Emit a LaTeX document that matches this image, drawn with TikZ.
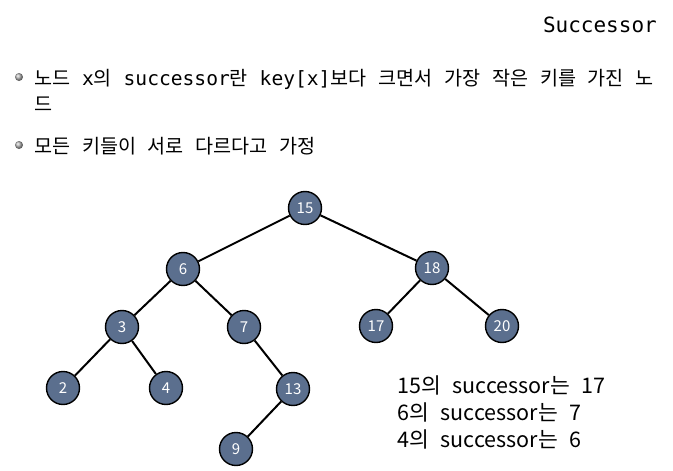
\documentclass[tikz,border=0pt]{standalone}
\usepackage{fontspec}
\newfontfamily\krfont{Noto Sans CJK KR}
\newfontfamily\codefont{DejaVu Sans Mono}
\newcommand\kr[1]{{\krfont #1}}
\newcommand\resultfont{\krfont\fontsize{21.5}{21.5}\selectfont\spaceskip 0.55em\relax}
\definecolor{keyblue}{HTML}{5B6F8E}
\tikzset{
  keynode/.style={circle, draw=black, line width=1.4pt, fill=keyblue, minimum size=33pt,
    inner sep=0pt, text=white, font=\krfont\fontsize{15}{15}\selectfont},
  treeedge/.style={line width=2pt},
  bulletball/.style={circle, inner sep=0pt, minimum size=8pt, ball color=gray!60},
  bullettext/.style={anchor=base west, inner sep=0pt, font=\codefont\fontsize{19.6}{19.6}\selectfont},
  resulttext/.style={anchor=base west, inner sep=0pt, font=\resultfont}
}
\begin{document}
\begin{tikzpicture}[x=1pt, y=-1pt]
    \useasboundingbox (0,0) rectangle (673,471);
    % title
    \node[anchor=base east, inner sep=0pt, font=\codefont\fontsize{21}{21}\selectfont] (title) at (657,32) {Successor};
    % bullets
    \node[bulletball] (b1) at (19,77) {};
    \node[bullettext] (t1) at (34,85) {\kr{노드} x\kr{의} successor\kr{란} key[x]\kr{보다} \kr{크면서} \kr{가장} \kr{작은} \kr{키를} \kr{가진} \kr{노}};
    \node[bullettext] (t1b) at (34,111) {\kr{드}};
    \node[bulletball] (b2) at (19,145) {};
    \node[bullettext] (t2) at (34,153) {\kr{모든} \kr{키들이} \kr{서로} \kr{다르다고} \kr{가정}};
    % tree
    \node[keynode] (n15) at (305,208) {15};
    \node[keynode] (n6) at (183,269) {6};
    \node[keynode] (n18) at (432,268) {18};
    \node[keynode] (n3) at (122,327) {3};
    \node[keynode] (n7) at (244,327) {7};
    \node[keynode] (n17) at (376,326) {17};
    \node[keynode] (n20) at (502,326) {20};
    \node[keynode] (n2) at (63,388) {2};
    \node[keynode] (n4) at (166,388) {4};
    \node[keynode] (n13) at (293,389) {13};
    \node[keynode] (n9) at (236,449) {9};
    \draw[treeedge] (n15) -- (n6);
    \draw[treeedge] (n15) -- (n18);
    \draw[treeedge] (n6) -- (n3);
    \draw[treeedge] (n6) -- (n7);
    \draw[treeedge] (n18) -- (n17);
    \draw[treeedge] (n18) -- (n20);
    \draw[treeedge] (n3) -- (n2);
    \draw[treeedge] (n3) -- (n4);
    \draw[treeedge] (n7) -- (n13);
    \draw[treeedge] (n13) -- (n9);
    % results
    \node[resulttext] (r1) at (397,393) {15의 successor는 17};
    \node[resulttext] (r2) at (397,420) {6의 successor는 7};
    \node[resulttext] (r3) at (397,447) {4의 successor는 6};
\end{tikzpicture}
\end{document}
